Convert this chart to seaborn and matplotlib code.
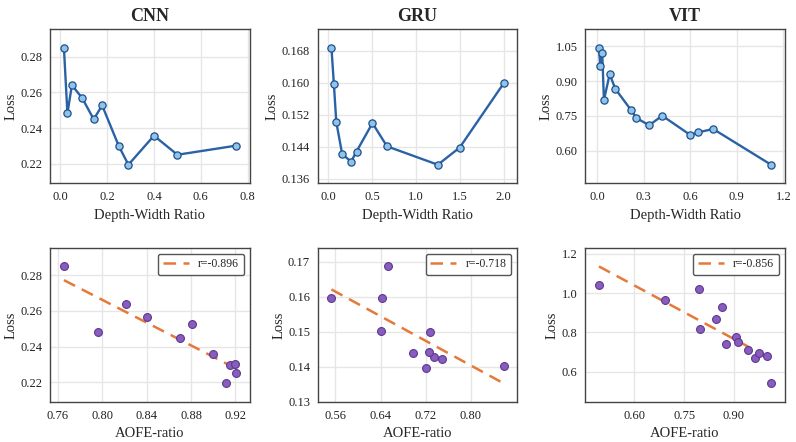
import numpy as np
import pandas as pd
import matplotlib
matplotlib.use("Agg")
import matplotlib.pyplot as plt
import seaborn as sns

models = ["CNN", "GRU", "VIT"]

# depth-width ratio, loss and AOFE-ratio per model (same point order)
cnn_dw = [0.016, 0.031, 0.05, 0.094, 0.143, 0.179, 0.25, 0.291, 0.40, 0.50, 0.75]
cnn_loss = [0.2850, 0.2482, 0.2641, 0.2568, 0.2449, 0.2527, 0.2299, 0.2194, 0.2357, 0.2250, 0.2301]
cnn_aofe = [0.7654, 0.7960, 0.8216, 0.8400, 0.8698, 0.8812, 0.9149, 0.9119, 0.8999, 0.9206, 0.9200]

gru_dw = [0.036, 0.064, 0.091, 0.159, 0.261, 0.322, 0.504, 0.670, 1.25, 1.50, 2.0]
gru_loss = [0.1687, 0.1596, 0.1502, 0.1421, 0.1403, 0.1428, 0.1499, 0.1441, 0.1395, 0.1438, 0.1598]
gru_aofe = [0.6530, 0.5530, 0.6400, 0.7490, 0.8580, 0.7350, 0.7270, 0.7260, 0.7200, 0.6971, 0.6418]

vit_dw = [0.011, 0.019, 0.032, 0.043, 0.080, 0.116, 0.217, 0.252, 0.335, 0.419, 0.600, 0.650, 0.747, 1.121]
vit_loss = [1.043, 0.964, 1.020, 0.818, 0.930, 0.867, 0.776, 0.741, 0.710, 0.751, 0.668, 0.679, 0.694, 0.540]
vit_aofe = [0.4937, 0.6923, 0.7956, 0.7987, 0.8639, 0.8448, 0.9060, 0.8759, 0.9424, 0.9130, 0.9630, 1.0000, 0.9750, 1.0120]

r_labels = ["r=-0.896", "r=-0.718", "r=-0.856"]

top_xticks = [[0.0, 0.2, 0.4, 0.6, 0.8], [0.0, 0.5, 1.0, 1.5, 2.0], [0.0, 0.3, 0.6, 0.9, 1.2]]
top_yticks = [[0.22, 0.24, 0.26, 0.28], [0.136, 0.144, 0.152, 0.160, 0.168], [0.60, 0.75, 0.90, 1.05]]
bot_xticks = [[0.76, 0.80, 0.84, 0.88, 0.92], [0.56, 0.64, 0.72, 0.80], [0.60, 0.75, 0.90]]
bot_yticks = [[0.22, 0.24, 0.26, 0.28], [0.13, 0.14, 0.15, 0.16, 0.17], [0.6, 0.8, 1.0, 1.2]]

data = {
    "CNN": (cnn_dw, cnn_loss, cnn_aofe),
    "GRU": (gru_dw, gru_loss, gru_aofe),
    "VIT": (vit_dw, vit_loss, vit_aofe),
}

sns.set_theme(style="whitegrid")
plt.rcParams["font.family"] = ["Liberation Serif", "DejaVu Serif"]
plt.rcParams["axes.edgecolor"] = "#444444"
plt.rcParams["grid.color"] = "#e6e6e6"

fig, axes = plt.subplots(2, 3, figsize=(7.96, 4.42), dpi=100)
fig.subplots_adjust(left=0.063, right=0.986, bottom=0.0905, top=0.934, wspace=0.34, hspace=0.417)

for i, m in enumerate(models):
    dw, loss, aofe = data[m]
    df = pd.DataFrame({"dw": dw, "loss": loss, "aofe": aofe}).sort_values("dw")

    ax = axes[0, i]
    sns.lineplot(data=df, x="dw", y="loss", ax=ax, sort=True, color="#2b62a6", lw=1.7,
                 marker="o", markersize=5.2, markerfacecolor="#8ec3ea",
                 markeredgecolor="#1f4f8a", markeredgewidth=0.9)
    ax.set_title(m, fontsize=13, fontweight="bold", pad=6)
    ax.set_xlabel("Depth-Width Ratio", fontsize=10.5)
    ax.set_ylabel("Loss", fontsize=10.5, labelpad=2)
    ax.set_xticks(top_xticks[i])
    ax.set_yticks(top_yticks[i])
    ax.margins(x=0.08, y=0.16)

    ax = axes[1, i]
    sns.scatterplot(data=df, x="aofe", y="loss", ax=ax, color="#8a5cbf", s=32,
                    edgecolor="#5b3a8e", linewidth=0.8, zorder=3)
    sns.regplot(data=df, x="aofe", y="loss", ax=ax, scatter=False, ci=None, truncate=True,
                line_kws={"color": "#e5793a", "lw": 1.8, "dashes": (5, 3)})
    ax.lines[-1].set_label(r_labels[i])
    ax.legend(handles=[ax.lines[-1]], loc="upper right", fontsize=8.5, frameon=True,
              edgecolor="#555555", fancybox=True, framealpha=1, handlelength=2.2)
    ax.set_xlabel("AOFE-ratio", fontsize=10.5)
    ax.set_ylabel("Loss", fontsize=10.5, labelpad=2)
    ax.set_xticks(bot_xticks[i])
    ax.set_yticks(bot_yticks[i])
    ax.margins(x=0.08, y=0.16)

for ax in axes.flat:
    ax.autoscale_view()
    ax.tick_params(labelsize=9, length=3.5, width=1, color="#444444", pad=2, labelcolor="#222222")
    for s in ax.spines.values():
        s.set_edgecolor("#444444")
        s.set_linewidth(1)

plt.savefig("out.png", dpi=100)
